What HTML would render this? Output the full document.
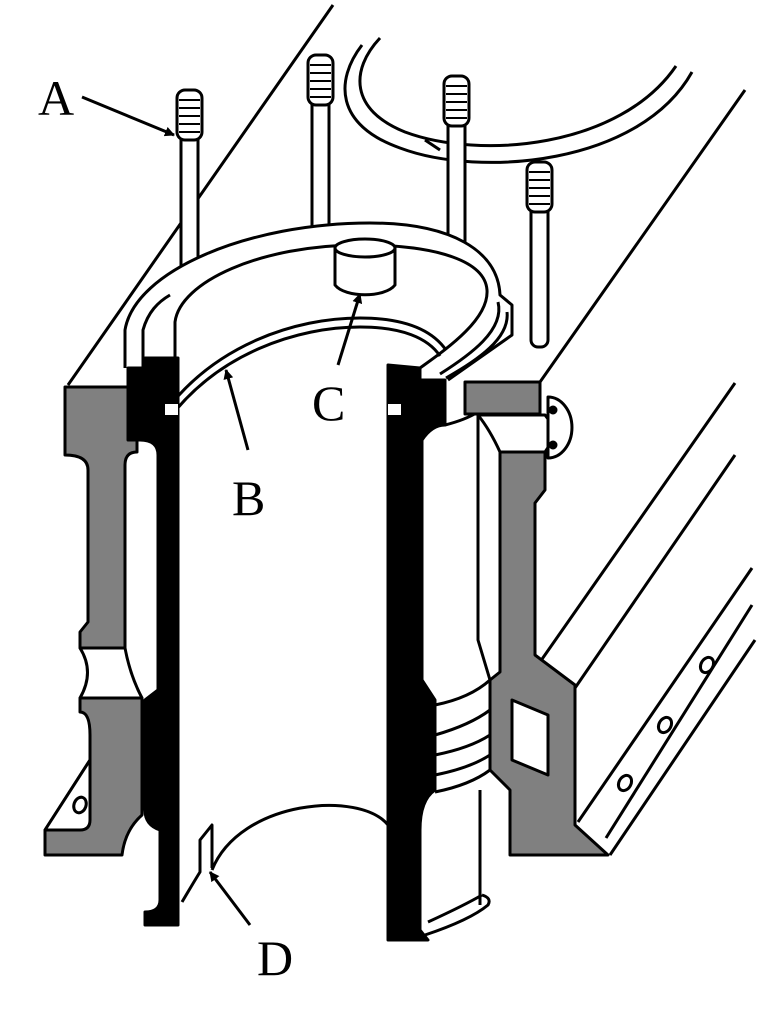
<!DOCTYPE html>
<html><head><meta charset="utf-8"><style>
html,body{margin:0;padding:0;background:#fff;}
svg{display:block;}
text{font-family:"Liberation Serif",serif;font-size:50px;fill:#000;}
</style></head><body>
<svg width="757" height="1024" viewBox="0 0 757 1024" xmlns="http://www.w3.org/2000/svg">
<defs><marker id="ar" markerWidth="10" markerHeight="10" refX="9" refY="5" orient="auto" markerUnits="userSpaceOnUse"><path d="M0,0 L10,5 L0,10 Z" fill="#000"/></marker></defs>
<g fill="none" stroke="#000" stroke-width="3" stroke-linejoin="round">
<line x1="68" y1="385" x2="333" y2="5"/>
<line x1="540" y1="382" x2="745" y2="90"/>
<line x1="540" y1="662" x2="735" y2="383"/>
<line x1="575" y1="688" x2="735" y2="455"/>
<line x1="578" y1="822" x2="752" y2="568"/>
<line x1="606" y1="838" x2="752" y2="605"/>
<line x1="610" y1="855" x2="755" y2="640"/>
<ellipse cx="625" cy="783" rx="6" ry="8" transform="rotate(30 625 783)"/>
<ellipse cx="665" cy="725" rx="6" ry="8" transform="rotate(30 665 725)"/>
<ellipse cx="707" cy="665" rx="6" ry="8" transform="rotate(30 707 665)"/>
<path d="M380,38 C350,70 350,110 405,132 C480,160 620,148 676,66"/>
<path d="M362,45 C335,80 335,125 400,148 C480,178 640,165 692,72"/>
<path d="M425,140 L440,150"/>
<g fill="#fff">
<rect x="181" y="120" width="17" height="155"/>
<rect x="177" y="90" width="25" height="50" rx="8"/>
<rect x="312" y="70" width="17" height="160"/>
<rect x="308" y="55" width="25" height="50" rx="8"/>
<rect x="448" y="100" width="17" height="145"/>
<rect x="444" y="76" width="25" height="50" rx="8"/>
<rect x="531" y="185" width="17" height="162" rx="7"/>
<rect x="527" y="162" width="25" height="50" rx="8"/>
</g>
<g stroke-width="2">
<path d="M179,100h21M179,108h21M179,116h21M179,124h21M179,132h21"/>
<path d="M310,65h21M310,73h21M310,81h21M310,89h21M310,97h21"/>
<path d="M446,86h21M446,94h21M446,102h21M446,110h21M446,118h21"/>
<path d="M529,172h21M529,180h21M529,188h21M529,196h21M529,204h21"/>
</g>
<!-- arch flange -->
<path fill="#fff" stroke="none" d="M125,368 L125,330 C135,270 250,223 370,223 C450,223 498,250 500,295 L512,305 L512,335 L448,380 L388,366 L178,358 Z"/>
<path d="M125,368 L125,330 C135,270 250,223 370,223 C450,223 498,250 500,295 L512,305 L512,335 L448,380"/>
<path d="M143,368 L143,330 C148,312 158,302 170,295"/>
<path d="M175,357 L175,322 C180,282 260,245 360,245 C440,245 485,262 487,290 C489,320 445,350 420,368"/>
<path d="M498,302 C505,330 470,355 440,374"/>
<path d="M507,312 C510,338 478,360 446,378"/>
<!-- cap C -->
<path fill="#fff" d="M335,248 L335,285 C345,298 385,298 395,285 L395,248 Z"/>
<ellipse cx="365" cy="248" rx="30" ry="9" fill="#fff"/>
<!-- liner top edge B -->
<path d="M165,412 C215,345 295,318 360,318 C405,318 432,330 446,350"/>
<path d="M168,420 C218,353 298,327 360,327 C402,327 428,338 440,356"/>
<!-- left gray block -->
<path fill="#808080" d="M65,387 L137,387 L137,452 Q125,452 125,465 L125,648 L80,648 L80,632 L88,622 L88,470 Q88,455 65,455 Z"/>
<path d="M80,648 Q95,672 80,698 M125,648 Q130,675 142,698"/>
<path fill="#808080" d="M80,698 L142,698 L142,815 Q125,830 122,855 L45,855 L45,830 L90,760 L90,735 Q90,712 80,712 Z"/>
<path fill="#fff" d="M45,830 L90,760 L90,820 Q90,830 80,830 Z"/>
<ellipse cx="80" cy="805" rx="6" ry="8" transform="rotate(20 80 805)"/>
<!-- left black wall -->
<path fill="#000" d="M128,368 L145,368 L145,358 L178,358 L178,925 L145,925 L145,912 Q160,912 160,900 L160,830 Q145,825 145,810 L145,700 L158,690 L158,455 Q158,440 140,440 L128,440 Z"/>
<rect x="165" y="404" width="13" height="11" fill="#fff" stroke="none"/>
<!-- right black wall -->
<path fill="#000" d="M388,365 L420,368 L420,380 L445,380 L445,425 Q432,425 422,440 L422,680 L435,700 L435,790 Q420,800 420,830 L420,930 L428,940 L388,940 Z"/>
<rect x="388" y="404" width="13" height="11" fill="#fff" stroke="none"/>
<!-- right jacket -->
<path d="M445,425 Q465,420 478,412 M478,412 L478,640 L490,680"/>
<path d="M435,705 Q470,698 490,680 M435,735 Q470,725 490,710 M435,755 Q470,748 490,735 M435,775 Q470,768 490,755 M435,792 Q470,785 490,770"/>
<path d="M480,790 L480,905 M425,935 Q470,920 488,905 Q492,898 482,895 M428,922 Q465,905 482,895"/>
<rect x="465" y="382" width="75" height="32" fill="#808080"/>
<path fill="#fff" d="M478,415 L545,415 Q560,432 545,452 L500,452 Q490,430 478,415 Z"/>
<path fill="#fff" d="M548,397 A22,28 0 0 1 548,458 Z"/>
<circle cx="553" cy="410" r="3" fill="#000"/><circle cx="553" cy="445" r="3" fill="#000"/>
<path fill="#808080" d="M500,452 L545,452 L545,490 L535,503 L535,655 L575,685 L575,825 L608,855 L510,855 L510,790 L490,770 L490,680 L500,672 Z"/>
<path fill="#fff" d="M512,700 L548,715 L548,775 L512,760 Z"/>
<path d="M212,870 C240,800 360,790 388,825"/>
<path d="M182,902 Q195,880 200,872 L200,840 L212,825 L212,868"/>
</g>
<g stroke="#000" stroke-width="3" marker-end="url(#ar)">
<line x1="82" y1="97" x2="174" y2="135"/>
<line x1="248" y1="450" x2="226" y2="370"/>
<line x1="338" y1="365" x2="360" y2="294"/>
<line x1="250" y1="925" x2="210" y2="872"/>
</g>
<text x="38" y="115">A</text>
<text x="232" y="515">B</text>
<text x="312" y="420">C</text>
<text x="257" y="975">D</text>
</svg>
</body></html>
